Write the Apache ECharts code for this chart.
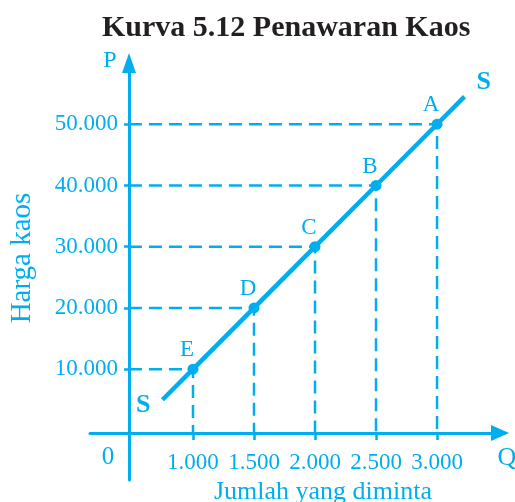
<!DOCTYPE html>
<html>
<head>
<meta charset="utf-8">
<script src="https://cdn.jsdelivr.net/npm/echarts@6/dist/echarts.min.js"></script>
<style>
  html, body { margin: 0; padding: 0; background: #ffffff; }
  #chart { width: 515px; height: 502px; }
</style>
</head>
<body>
<div id="chart"></div>
<script>
// Supply schedule for T-shirts (kaos): quantity Q against price P
const pointNames = ['E', 'D', 'C', 'B', 'A'];
const quantities = [1000, 1500, 2000, 2500, 3000];
const prices = [10000, 20000, 30000, 40000, 50000];

// Ends of the supply line S beyond the marked points
const lineStart = [750, 5000];
const lineEnd = [3225, 54500];

// Axis ticks and their printed labels
const xTicks = [1000, 1500, 2000, 2500, 3000];
const xTickLabels = ['1.000', '1.500', '2.000', '2.500', '3.000'];
const yTicks = [10000, 20000, 30000, 40000, 50000];
const yTickLabels = ['10.000', '20.000', '30.000', '40.000', '50.000'];

// Where the two axes cross, in data units (the Q axis is broken near the origin)
const Q_AT_P_AXIS = 475;
const P_AT_Q_AXIS = -450;

const CYAN = '#00AEEF';
const SERIF = '"Liberation Serif", "Times New Roman", serif';

const chart = echarts.init(document.getElementById('chart'), null, { renderer: 'canvas' });

// The line ends carry an "S" label but no visible marker
const endLabel = (pos, offset) => ({
  show: true, formatter: 'S', position: pos, distance: 12, offset: offset,
  fontWeight: 'bold', fontSize: 26, color: CYAN, fontFamily: SERIF
});

const lineData = [
  { value: lineStart, symbolSize: 0, label: endLabel('left', [0, 5]) }
];
quantities.forEach((q, i) => {
  lineData.push({ value: [q, prices[i]], name: pointNames[i] });
});
lineData.push({ value: lineEnd, symbolSize: 0, label: endLabel('right', [0, -14]) });

// Dashed guides from each point to both axes
const guideSeries = quantities.map((q, i) => ({
  type: 'line',
  silent: true,
  symbol: 'none',
  z: 1,
  data: [[Q_AT_P_AXIS, prices[i]], [q, prices[i]], [q, P_AT_Q_AXIS]],
  lineStyle: { color: CYAN, width: 2.5, type: [13, 7] }
}));

const option = {
  animation: false,
  backgroundColor: '#ffffff',
  textStyle: { fontFamily: SERIF },
  title: {
    text: 'Kurva 5.12 Penawaran Kaos',
    left: 102,
    top: 13,
    padding: 0,
    textStyle: { fontFamily: SERIF, fontWeight: 'bold', fontSize: 30, color: '#231F20' }
  },
  grid: { left: 90, right: 15, top: 63, bottom: 22, containLabel: false },
  xAxis: {
    type: 'value',
    min: 156,
    max: 3516,
    position: 'bottom',
    offset: -47,
    splitLine: { show: false },
    axisLine: {
      show: true, onZero: false,
      symbol: ['none', 'triangle'], symbolSize: [16, 18],
      lineStyle: { color: CYAN, width: 3 }
    },
    axisTick: { show: true, customValues: xTicks, length: 7, lineStyle: { color: CYAN, width: 2.5 } },
    axisLabel: {
      show: true,
      customValues: xTicks,
      formatter: v => xTickLabels[xTicks.indexOf(v)],
      margin: 18,
      color: CYAN, fontFamily: SERIF, fontSize: 23
    }
  },
  yAxis: {
    type: 'value',
    min: -8100,
    max: 60000,
    position: 'left',
    offset: -39,
    splitLine: { show: false },
    axisLine: {
      show: true, onZero: false,
      symbol: ['none', 'triangle'], symbolSize: [14, 20],
      lineStyle: { color: CYAN, width: 3 }
    },
    axisTick: { show: true, customValues: yTicks, length: 5, lineStyle: { color: CYAN, width: 2.5 } },
    axisLabel: {
      show: true,
      customValues: yTicks,
      formatter: v => yTickLabels[yTicks.indexOf(v)],
      margin: 11,
      color: CYAN, fontFamily: SERIF, fontSize: 23
    }
  },
  series: guideSeries.concat([{
    type: 'line',
    name: 'S',
    z: 3,
    data: lineData,
    symbol: 'circle',
    symbolSize: 11,
    showAllSymbol: true,
    itemStyle: { color: CYAN },
    lineStyle: { color: CYAN, width: 4.5 },
    label: {
      show: true,
      formatter: p => p.name,
      position: 'top',
      distance: 2,
      offset: [-6, 0],
      color: CYAN,
      fontFamily: SERIF,
      fontSize: 23
    }
  }]),
  graphic: [
    { type: 'text', x: 110, y: 61, style: { text: 'P', fill: CYAN, font: '24px ' + SERIF, textAlign: 'center', textVerticalAlign: 'middle' } },
    { type: 'text', x: 507, y: 458, style: { text: 'Q', fill: CYAN, font: '26px ' + SERIF, textAlign: 'center', textVerticalAlign: 'middle' } },
    { type: 'text', x: 108, y: 457, style: { text: '0', fill: CYAN, font: '25px ' + SERIF, textAlign: 'center', textVerticalAlign: 'middle' } },
    { type: 'text', x: 22, y: 258, rotation: Math.PI / 2, style: { text: 'Harga kaos', fill: CYAN, font: '29px ' + SERIF, textAlign: 'center', textVerticalAlign: 'middle' } },
    { type: 'text', x: 323, y: 492, style: { text: 'Jumlah yang diminta', fill: CYAN, font: '26px ' + SERIF, textAlign: 'center', textVerticalAlign: 'middle' } }
  ]
};

chart.setOption(option);
</script>
</body>
</html>
